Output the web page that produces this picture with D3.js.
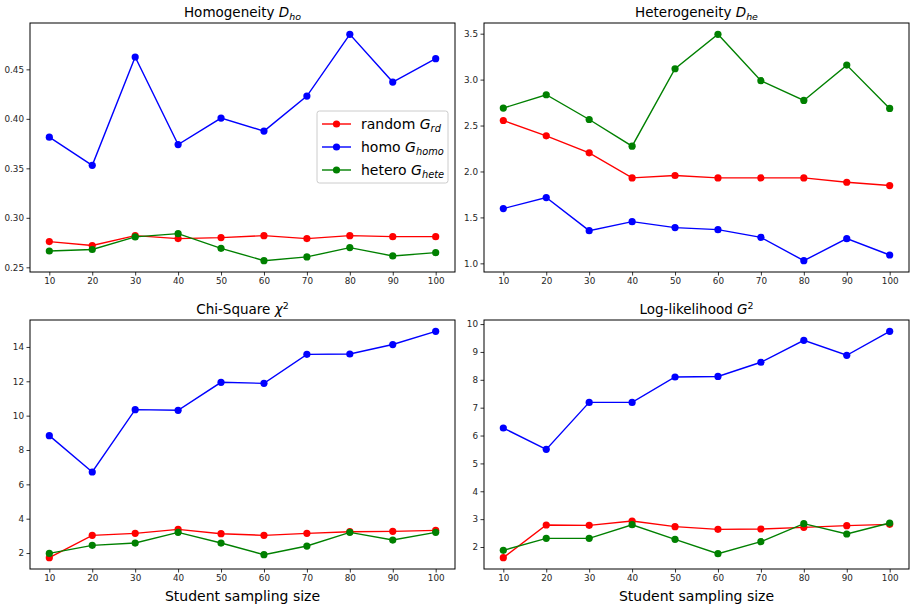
<!DOCTYPE html>
<html>
<head>
<meta charset="utf-8">
<script src="https://cdn.jsdelivr.net/npm/d3@7"></script>
<style>
  html, body { margin: 0; padding: 0; background: #fff; }
  svg { display: block; font-family: "DejaVu Sans", sans-serif; }
</style>
</head>
<body>
<svg id="chart" width="915" height="605"></svg>
<script>
// Student sampling sizes (shared x values)
const samplingSizes = [10, 20, 30, 40, 50, 60, 70, 80, 90, 100];

// Homogeneity D_ho
const homRandom = [0.276, 0.272, 0.282, 0.279, 0.280, 0.282, 0.279, 0.282, 0.281, 0.281];
const homHomo   = [0.3815, 0.353, 0.4625, 0.374, 0.4008, 0.3876, 0.423, 0.4854, 0.4372, 0.4608];
const homHetero = [0.2665, 0.268, 0.2807, 0.284, 0.2692, 0.2567, 0.2605, 0.2699, 0.2615, 0.2648];
const homTicks  = [0.25, 0.30, 0.35, 0.40, 0.45];

// Heterogeneity D_he
const hetRandom = [2.555, 2.388, 2.203, 1.930, 1.956, 1.930, 1.930, 1.930, 1.883, 1.847];
const hetHomo   = [1.596, 1.716, 1.356, 1.454, 1.389, 1.367, 1.283, 1.029, 1.269, 1.091];
const hetHetero = [2.690, 2.835, 2.566, 2.275, 3.118, 3.493, 2.988, 2.773, 3.158, 2.686];
const hetTicks  = [1.0, 1.5, 2.0, 2.5, 3.0, 3.5];

// Chi-Square
const chiRandom = [1.73, 3.03, 3.146, 3.379, 3.126, 3.03, 3.146, 3.243, 3.262, 3.32];
const chiHomo   = [8.835, 6.718, 10.35, 10.31, 11.94, 11.88, 13.57, 13.59, 14.14, 14.91];
const chiHetero = [1.98, 2.447, 2.583, 3.204, 2.583, 1.903, 2.408, 3.204, 2.757, 3.204];
const chiTicks  = [2, 4, 6, 8, 10, 12, 14];

// Log-likelihood G^2
const llRandom = [1.617, 2.789, 2.777, 2.933, 2.73, 2.634, 2.646, 2.706, 2.766, 2.813];
const llHomo   = [6.27, 5.504, 7.19, 7.19, 8.10, 8.12, 8.63, 9.416, 8.88, 9.74];
const llHetero = [1.88, 2.311, 2.311, 2.80, 2.275, 1.761, 2.191, 2.837, 2.466, 2.861];
const llTicks  = [2, 3, 4, 5, 6, 7, 8, 9, 10];

const seriesNames = ["random", "homo", "hetero"];
const seriesSubs  = ["rd", "homo", "hete"];
const seriesColors = ["#ff0000", "#0000ff", "#008000"];

const svg = d3.select("#chart");

// Adds "base" + italic math part with sub/superscript to a text element
function mathLabel(sel, plain, sym, script, isSuper) {
  sel.append("tspan").text(plain);
  sel.append("tspan").attr("font-style", "italic").text(sym);
  sel.append("tspan")
    .attr("font-style", isSuper ? "normal" : "italic")
    .attr("font-size", "0.7em")
    .attr("dy", isSuper ? "-0.55em" : "0.3em")
    .text(script);
}

const panels = [
  { box: [30, 455, 23, 272], data: [homRandom, homHomo, homHetero], ticks: homTicks, fmt: d3.format(".2f"),
    title: ["Homogeneity ", "D", "ho", false], legend: true, xlabel: false },
  { box: [484, 909, 23, 272], data: [hetRandom, hetHomo, hetHetero], ticks: hetTicks, fmt: d3.format(".1f"),
    title: ["Heterogeneity ", "D", "he", false], legend: false, xlabel: false },
  { box: [30, 455, 320, 569], data: [chiRandom, chiHomo, chiHetero], ticks: chiTicks, fmt: d3.format("d"),
    title: ["Chi-Square ", "χ", "2", true], legend: false, xlabel: true },
  { box: [484, 909, 320, 569], data: [llRandom, llHomo, llHetero], ticks: llTicks, fmt: d3.format("d"),
    title: ["Log-likelihood ", "G", "2", true], legend: false, xlabel: true }
];

panels.forEach(p => {
  const [x0, x1, y0, y1] = p.box;
  // matplotlib-style 5% margins around the data
  const xs = d3.extent(samplingSizes);
  const xm = (xs[1] - xs[0]) * 0.05;
  const all = p.data.flat();
  const ys = d3.extent(all);
  const ym = (ys[1] - ys[0]) * 0.05;

  const x = d3.scaleLinear().domain([xs[0] - xm, xs[1] + xm]).range([x0, x1]);
  const y = d3.scaleLinear().domain([ys[0] - ym, ys[1] + ym]).range([y1, y0]);

  const g = svg.append("g");

  // axes
  const xAxis = g.append("g").attr("transform", `translate(0,${y1})`)
    .call(d3.axisBottom(x).tickValues(samplingSizes).tickSize(3.5).tickPadding(2.5).tickFormat(d3.format("d")));
  const yAxis = g.append("g").attr("transform", `translate(${x0},0)`)
    .call(d3.axisLeft(y).tickValues(p.ticks).tickSize(3.5).tickPadding(2.5).tickFormat(p.fmt));
  [xAxis, yAxis].forEach(a => {
    a.select(".domain").remove();
    a.selectAll("text").attr("font-size", 8.8).attr("fill", "#262626").attr("font-family", "DejaVu Sans, sans-serif");
    a.selectAll("line").attr("stroke", "#000").attr("stroke-width", 0.8);
  });

  // series lines and markers
  p.data.forEach((vals, i) => {
    const pts = samplingSizes.map((s, k) => [s, vals[k]]);
    g.append("path")
      .datum(pts)
      .attr("fill", "none")
      .attr("stroke", seriesColors[i])
      .attr("stroke-width", 1.4)
      .attr("d", d3.line().x(d => x(d[0])).y(d => y(d[1])));
    g.selectAll(null).data(pts).enter().append("circle")
      .attr("cx", d => x(d[0]))
      .attr("cy", d => y(d[1]))
      .attr("r", 3.6)
      .attr("fill", seriesColors[i]);
  });

  // frame
  g.append("rect")
    .attr("x", x0).attr("y", y0)
    .attr("width", x1 - x0).attr("height", y1 - y0)
    .attr("fill", "none").attr("stroke", "#000").attr("stroke-width", 1);

  // title
  const t = g.append("text")
    .attr("x", (x0 + x1) / 2).attr("y", y0 - 6)
    .attr("text-anchor", "middle")
    .attr("font-size", 13.5).attr("fill", "#000");
  mathLabel(t, ...p.title);

  if (p.xlabel) {
    g.append("text")
      .attr("x", (x0 + x1) / 2).attr("y", y1 + 32)
      .attr("text-anchor", "middle")
      .attr("font-size", 14).attr("fill", "#000")
      .text("Student sampling size");
  }

  if (p.legend) {
    const lx = 317, ly = 111, lw = 131, lh = 72;
    const lg = g.append("g");
    lg.append("rect")
      .attr("x", lx).attr("y", ly).attr("width", lw).attr("height", lh)
      .attr("rx", 2.5)
      .attr("fill", "#fff").attr("fill-opacity", 0.8)
      .attr("stroke", "#ccc").attr("stroke-width", 1);
    seriesNames.forEach((name, i) => {
      const cy = ly + 13 + i * 23;
      lg.append("line")
        .attr("x1", lx + 5).attr("x2", lx + 34)
        .attr("y1", cy).attr("y2", cy)
        .attr("stroke", seriesColors[i]).attr("stroke-width", 1.4);
      lg.append("circle").attr("cx", lx + 19.5).attr("cy", cy).attr("r", 3.6).attr("fill", seriesColors[i]);
      const tx = lg.append("text")
        .attr("x", lx + 44).attr("y", cy + 5)
        .attr("font-size", 14).attr("fill", "#000");
      mathLabel(tx, name + " ", "G", seriesSubs[i], false);
    });
  }
});
</script>
</body>
</html>
